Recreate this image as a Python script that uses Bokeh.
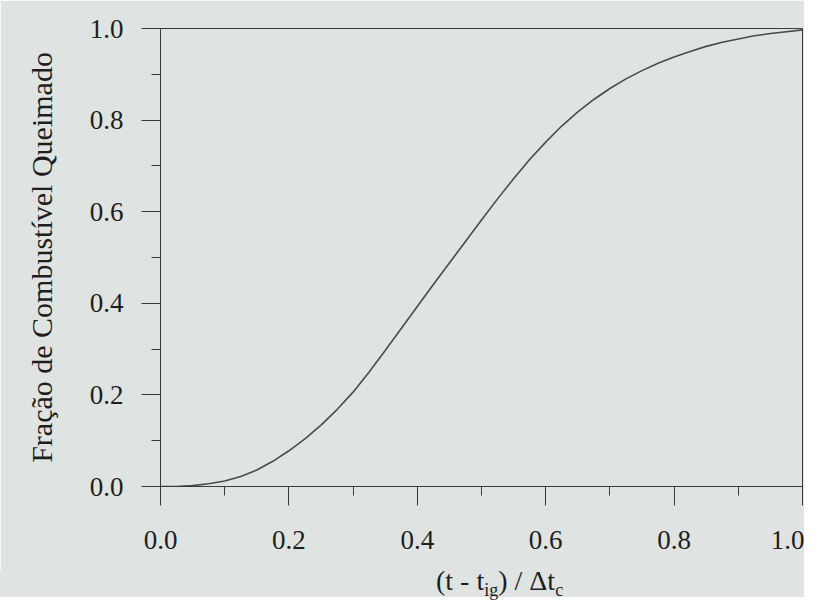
from bokeh.plotting import figure
from bokeh.models import Range1d, FixedTicker, Div
from bokeh.layouts import column
from bokeh.embed import file_html
from bokeh.resources import INLINE

# ---- data ----
x_frac = [0.000, 0.025, 0.050, 0.075, 0.100, 0.125, 0.150, 0.175, 0.200, 0.225,
          0.250, 0.275, 0.300, 0.325, 0.350, 0.375, 0.400, 0.425, 0.450, 0.475,
          0.500, 0.525, 0.550, 0.575, 0.600, 0.625, 0.650, 0.675, 0.700, 0.725,
          0.750, 0.775, 0.800, 0.825, 0.850, 0.875, 0.900, 0.925, 0.950, 0.975, 1.000]
y_burned = [0.000, 0.000, 0.002, 0.006, 0.012, 0.022, 0.036, 0.055, 0.078, 0.104,
            0.134, 0.168, 0.206, 0.250, 0.297, 0.345, 0.393, 0.441, 0.488, 0.535,
            0.582, 0.628, 0.672, 0.714, 0.752, 0.787, 0.818, 0.845, 0.869, 0.890,
            0.908, 0.924, 0.938, 0.950, 0.961, 0.970, 0.977, 0.984, 0.989, 0.993, 0.997]

major_ticks = [0.0, 0.2, 0.4, 0.6, 0.8, 1.0]
minor_ticks = [0.1, 0.3, 0.5, 0.7, 0.9]
tick_labels = {0.0: "0.0", 0.2: "0.2", 0.4: "0.4", 0.6: "0.6", 0.8: "0.8", 1.0: "1.0"}

y_title = "Fração de Combustível Queimado"
x_title_parts = ["(t - t", "ig", ") / Δt", "c"]

BG = "#dfe4e2"
INK = "#1e1e1e"
FONT = "Liberation Serif"

p = figure(width=804, height=570, output_backend="svg", toolbar_location=None,
           x_range=Range1d(0, 1), y_range=Range1d(0, 1),
           min_border_left=160, min_border_right=2,
           min_border_top=28, min_border_bottom=84, margin=0)

p.background_fill_color = BG
p.border_fill_color = BG
p.outline_line_color = "#3a3a3a"
p.outline_line_width = 1
p.grid.visible = False

p.line(x_frac, y_burned, line_color="#4a4a4a", line_width=1.6)

for ax in (p.xaxis[0], p.yaxis[0]):
    ax.ticker = FixedTicker(ticks=major_ticks, minor_ticks=minor_ticks)
    ax.major_label_overrides = tick_labels
    ax.axis_line_color = "#3a3a3a"
    ax.axis_line_width = 1
    ax.major_tick_line_color = "#3a3a3a"
    ax.minor_tick_line_color = "#3a3a3a"
    ax.major_tick_in = 0
    ax.major_tick_out = 19
    ax.minor_tick_in = 0
    ax.minor_tick_out = 9
    ax.major_label_text_font = FONT
    ax.major_label_text_font_size = "27px"
    ax.major_label_text_color = INK

p.xaxis.major_label_standoff = 25
p.yaxis.major_label_standoff = 18

p.yaxis.axis_label = y_title
p.yaxis.axis_label_text_font = FONT
p.yaxis.axis_label_text_font_size = "30px"
p.yaxis.axis_label_text_font_style = "normal"
p.yaxis.axis_label_text_color = INK
p.yaxis.axis_label_standoff = 29

# x axis title with subscripts (HTML text under the plot)
sub_style = "font-size:18px;position:relative;top:6px;"
x_title_html = (
    f'<div style="position:absolute;left:436px;top:-3px;white-space:nowrap;'
    f'font-family:\'{FONT}\',serif;font-size:28px;line-height:28px;color:{INK};">'
    f'{x_title_parts[0]}<span style="{sub_style}">{x_title_parts[1]}</span>'
    f'{x_title_parts[2]}<span style="{sub_style}">{x_title_parts[3]}</span></div>'
)
x_title = Div(text=x_title_html, width=804, height=27, margin=0,
              styles={"background-color": BG, "position": "relative",
                      "overflow": "visible"})

layout = column(p, x_title, spacing=0, margin=0)
open("out.html", "w").write(file_html(layout, INLINE))
